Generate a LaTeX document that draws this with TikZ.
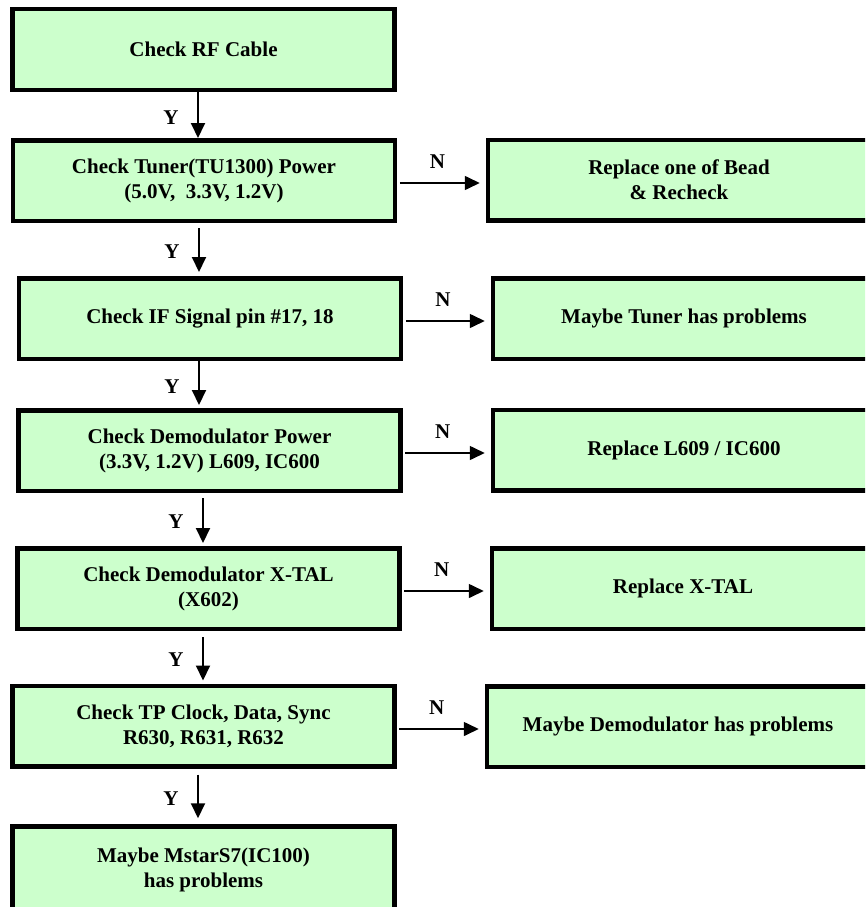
\documentclass[tikz,border=0pt]{standalone}
\usepackage{fontspec}
\setmainfont{Liberation Serif}
\usetikzlibrary{arrows.meta}
\definecolor{boxgreen}{RGB}{204,255,204}
\begin{document}
\begin{tikzpicture}[x=1pt,y=-1pt,
  box/.style={draw=black, line width=4.5pt, fill=boxgreen, minimum width=382pt,
    minimum height=80.5pt, inner sep=0pt, align=center,
    font=\fontsize{21}{25}\selectfont\bfseries},
  yarr/.style={draw=black, line width=2pt, -{Triangle[length=15pt,width=14pt]}},
  narr/.style={draw=black, line width=1.6pt, -{Triangle[length=15pt,width=14pt]},
    shorten <=2.5pt, shorten >=6pt},
  lab/.style={font=\fontsize{21}{25}\selectfont\bfseries, inner sep=0pt},
  ylab/.style={lab, midway, xshift=-27pt, yshift=-2.5pt},
  nlab/.style={lab, midway, xshift=-4pt, yshift=21pt}]
\useasboundingbox (0,0) rectangle (865,907);
\clip (0,0) rectangle (865,907);
% left column
\node[box] (b1) at (203.5,49.5) {Check RF Cable};
\node[box] (b2) at (204,180.5) {Check Tuner(TU1300) Power\\(5.0V,\ \ 3.3V, 1.2V)};
\node[box] (b3) at (210,318.5) {Check IF Signal pin \#17, 18};
\node[box] (b4) at (209.5,450.5) {Check Demodulator Power\\(3.3V, 1.2V) L609, IC600};
\node[box] (b5) at (208.5,588.5) {Check Demodulator X-TAL\\(X602)};
\node[box] (b6) at (203.5,726) {Check TP Clock, Data, Sync\\R630, R631, R632};
\node[box, minimum height=87pt] (b7) at (203.5,870) {Maybe MstarS7(IC100)\\has problems};
% right column
\node[box] (r1) at (679,180) {Replace one of Bead\\\& Recheck};
\node[box] (r2) at (684,318.5) {Maybe Tuner has problems};
\node[box] (r3) at (684,450) {Replace L609 / IC600};
\node[box] (r4) at (683,588.5) {Replace X-TAL};
\node[box] (r5) at (678,726.5) {Maybe Demodulator has problems};
% Y arrows
\draw[yarr] ([xshift=-5.5pt]b1.south) -- ([xshift=-5.5pt]b1.south |- b2.north) node[ylab]{Y};
\draw[yarr, shorten <=5pt, shorten >=4pt] ([xshift=-5pt]b2.south) -- ([xshift=-5pt]b2.south |- b3.north) node[ylab]{Y};
\draw[yarr, shorten >=3pt] ([xshift=-11pt]b3.south) -- ([xshift=-11pt]b3.south |- b4.north) node[ylab]{Y};
\draw[yarr, shorten <=5pt, shorten >=3pt] ([xshift=-6.5pt]b4.south) -- ([xshift=-6.5pt]b4.south |- b5.north) node[ylab]{Y};
\draw[yarr, shorten <=6pt, shorten >=3pt] ([xshift=-5.5pt]b5.south) -- ([xshift=-5.5pt]b5.south |- b6.north) node[ylab]{Y};
\draw[yarr, shorten <=6pt, shorten >=6pt] ([xshift=-5.5pt]b6.south) -- ([xshift=-5.5pt]b6.south |- b7.north) node[ylab]{Y};
% N arrows
\draw[narr] ([yshift=-2.5pt]b2.east) -- ([yshift=-2.5pt]b2.east -| r1.west) node[nlab]{N};
\draw[narr] ([yshift=-2.5pt]b3.east) -- ([yshift=-2.5pt]b3.east -| r2.west) node[nlab]{N};
\draw[narr] ([yshift=-2.5pt]b4.east) -- ([yshift=-2.5pt]b4.east -| r3.west) node[nlab]{N};
\draw[narr] ([yshift=-2.5pt]b5.east) -- ([yshift=-2.5pt]b5.east -| r4.west) node[nlab]{N};
\draw[narr] ([yshift=-3pt]b6.east) -- ([yshift=-3pt]b6.east -| r5.west) node[nlab]{N};
\end{tikzpicture}
\end{document}
